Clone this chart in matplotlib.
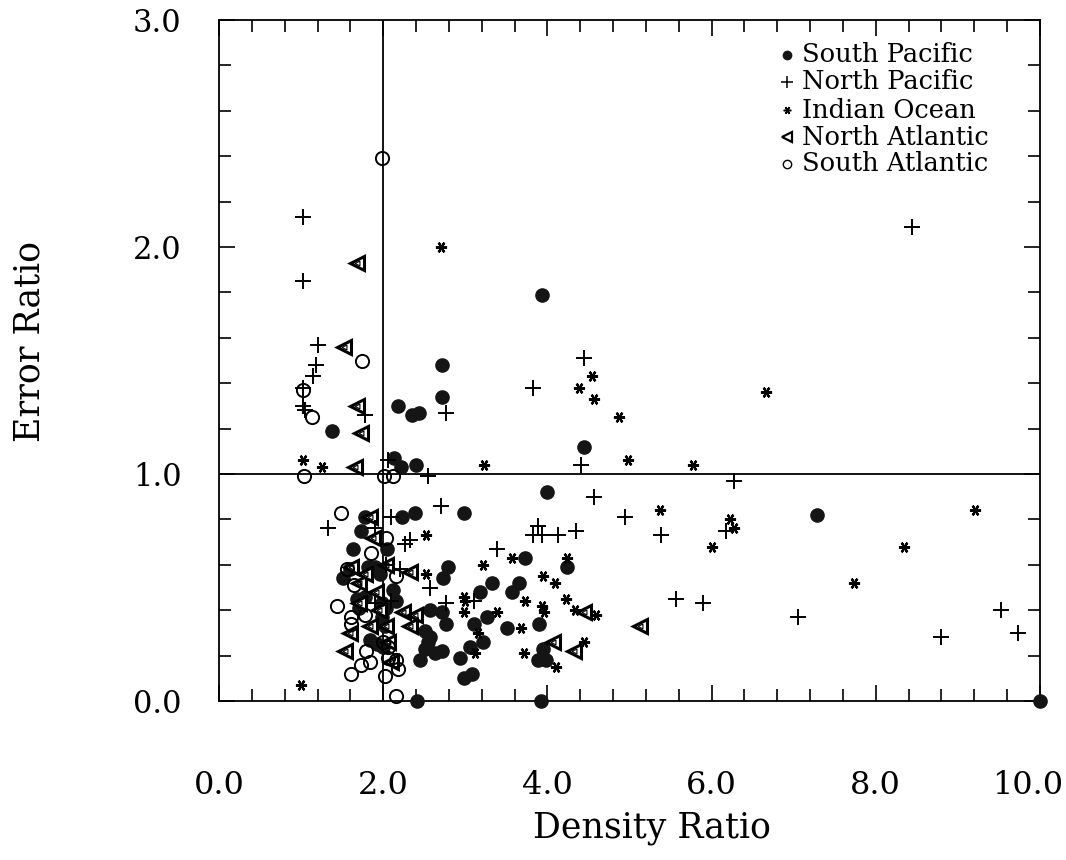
import matplotlib
matplotlib.use("Agg")
import matplotlib.pyplot as plt
import matplotlib.transforms as mtransforms
from matplotlib.ticker import MultipleLocator

# ---------------- data ----------------
sp_x = [3.93, 2.72, 2.72, 2.18, 2.35, 2.43, 4.45, 2.13, 2.22, 2.40, 1.38, 4.00, 2.99, 7.28, 10.0, 3.92, 2.41,
        2.39, 2.23, 1.78, 1.73, 1.63, 2.05, 1.51, 1.60, 1.84, 1.96, 1.82, 1.90, 2.12, 1.68, 1.70, 1.78, 1.99,
        2.15, 2.04, 1.98, 2.57, 2.72, 2.76, 2.02, 2.51, 2.57, 2.54, 1.84, 1.93, 2.00, 2.45, 2.63, 2.72, 2.51,
        2.94, 2.79, 2.73, 2.99, 3.08, 3.73, 3.65, 3.57, 3.33, 3.18, 3.27, 3.10, 3.22, 3.06, 3.51, 3.90, 3.95,
        3.89, 3.98, 4.24]
sp_y = [1.79, 1.48, 1.34, 1.30, 1.26, 1.27, 1.12, 1.07, 1.03, 1.04, 1.19, 0.92, 0.83, 0.82, 0.00, 0.00, 0.00,
        0.83, 0.81, 0.81, 0.75, 0.67, 0.67, 0.54, 0.58, 0.58, 0.56, 0.59, 0.59, 0.49, 0.45, 0.41, 0.46, 0.43,
        0.44, 0.41, 0.37, 0.40, 0.39, 0.34, 0.33, 0.31, 0.28, 0.26, 0.27, 0.25, 0.24, 0.18, 0.21, 0.22, 0.23,
        0.19, 0.59, 0.54, 0.10, 0.12, 0.63, 0.52, 0.48, 0.52, 0.48, 0.37, 0.34, 0.26, 0.24, 0.32, 0.34, 0.23,
        0.18, 0.18, 0.59]

np_x = [1.02, 1.02, 1.21, 1.18, 1.15, 1.02, 1.02, 1.05, 1.78, 2.77, 4.44, 3.83, 4.41, 8.44, 6.27, 6.17, 5.89,
        7.05, 8.80, 9.52, 9.73, 4.57, 4.95, 5.38, 3.88, 3.83, 3.94, 4.13, 4.35, 3.39, 3.10, 5.57, 2.54, 2.70,
        1.33, 2.09, 1.90, 2.27, 2.33, 2.21, 2.04, 2.57, 2.76, 2.10, 1.90, 2.06]
np_y = [2.13, 1.85, 1.57, 1.48, 1.43, 1.38, 1.30, 1.28, 1.26, 1.27, 1.51, 1.38, 1.04, 2.09, 0.97, 0.75, 0.43,
        0.37, 0.28, 0.40, 0.30, 0.90, 0.81, 0.73, 0.77, 0.73, 0.73, 0.73, 0.75, 0.67, 0.44, 0.45, 0.99, 0.86,
        0.76, 0.81, 0.76, 0.69, 0.71, 0.58, 0.60, 0.50, 0.43, 0.44, 0.43, 1.06]

io_x = [2.70, 4.54, 4.39, 4.57, 4.87, 4.98, 5.77, 3.23, 6.66, 9.21, 6.23, 6.27, 6.01, 8.34, 7.73, 5.37, 3.22,
        3.57, 4.24, 3.95, 4.09, 3.73, 3.93, 3.96, 4.23, 4.34, 4.59, 3.39, 2.98, 3.00, 2.99, 3.15, 3.12, 3.68,
        3.71, 4.10, 4.44, 2.52, 2.52, 1.00, 1.02, 1.26]
io_y = [2.00, 1.43, 1.38, 1.33, 1.25, 1.06, 1.04, 1.04, 1.36, 0.84, 0.80, 0.76, 0.68, 0.68, 0.52, 0.84, 0.60,
        0.63, 0.63, 0.55, 0.52, 0.44, 0.42, 0.39, 0.45, 0.40, 0.38, 0.39, 0.46, 0.44, 0.39, 0.30, 0.21, 0.32,
        0.21, 0.15, 0.26, 0.73, 0.56, 0.07, 1.06, 1.03]

na_x = [1.68, 1.52, 1.68, 1.73, 1.66, 1.84, 1.88, 1.61, 1.70, 2.04, 2.33, 1.70, 1.84, 1.60, 1.54, 2.04, 2.24,
        2.39, 2.33, 2.09, 1.91, 4.44, 5.13, 4.32, 4.07, 1.78, 1.95, 2.06]
na_y = [1.93, 1.56, 1.30, 1.18, 1.03, 0.81, 0.72, 0.59, 0.52, 0.60, 0.57, 0.43, 0.33, 0.30, 0.22, 0.33, 0.39,
        0.38, 0.33, 0.17, 0.48, 0.39, 0.33, 0.22, 0.26, 0.56, 0.40, 0.26]

sa_x = [1.98, 1.74, 1.02, 1.13, 1.04, 2.01, 2.12, 1.49, 2.04, 1.85, 2.16, 1.44, 1.61, 1.61, 1.79, 1.73, 1.84,
        1.61, 2.02, 2.06, 2.16, 2.18, 2.00, 2.06, 2.15, 1.78, 1.56, 1.65]
sa_y = [2.39, 1.50, 1.37, 1.25, 0.99, 0.99, 0.99, 0.83, 0.72, 0.65, 0.55, 0.42, 0.37, 0.34, 0.22, 0.16, 0.17,
        0.12, 0.11, 0.19, 0.18, 0.14, 0.26, 0.24, 0.02, 0.38, 0.58, 0.51]

labels = ["South Pacific", "North Pacific", "Indian Ocean", "North Atlantic", "South Atlantic"]
x_ticks = [0.0, 2.0, 4.0, 6.0, 8.0, 10.0]
y_ticks = [0.0, 1.0, 2.0, 3.0]

# ---------------- figure ----------------
plt.rcParams['font.family'] = ['DejaVu Serif']
fig = plt.figure(figsize=(10.66, 8.6), dpi=100)
ax = fig.add_axes([219/1066, 1-701/860, (1040-219)/1066, (701-20)/860])

ax.set_xlim(0, 10)
ax.set_ylim(0, 3)

# reference lines
ax.axvline(2.0, color='black', lw=1.3, zorder=1)
ax.axhline(1.0, color='black', lw=1.3, zorder=1)

k = 'black'
ast = (6, 2, 90)
ax.plot(sp_x, sp_y, 'o', ms=9.5, mfc='#151515', mec='#151515', ls='none', zorder=3, clip_on=False)
ax.plot(na_x, na_y, '<', ms=10, mfc='white', mec=k, mew=2.2, ls='none', zorder=4)
ax.plot(na_x, na_y, '<', ms=3.5, mfc='white', mec=k, mew=0.8, ls='none', zorder=4)
ax.plot(sa_x, sa_y, 'o', ms=9.5, mfc='none', mec=k, mew=1.4, ls='none', zorder=4, clip_on=False)
ax.plot(np_x, np_y, '+', ms=11, mec=k, mew=1.4, ls='none', zorder=5)
ax.plot(io_x, io_y, marker=ast, ms=8, mec=k, mew=1.6, ls='none', zorder=5)

# legend (custom)
leg_y = [2.846, 2.727, 2.603, 2.483, 2.366]
lx = 6.92
tx = 7.10
ax.plot([lx], [leg_y[0]], 'o', ms=6, mfc='#151515', mec='#151515')
ax.plot([lx], [leg_y[1]], '+', ms=8, mec=k, mew=1.1)
ax.plot([lx], [leg_y[2]], marker=ast, ms=5.5, mec=k, mew=1.1)
ax.plot([lx], [leg_y[3]], '<', ms=7, mfc='white', mec=k, mew=1.6)
ax.plot([lx], [leg_y[4]], 'o', ms=6, mfc='none', mec=k, mew=1.0)
for yy, lab in zip(leg_y, labels):
    ax.text(tx, yy, lab, fontsize=18.5, va='center', ha='left')

# ticks
ax.xaxis.set_major_locator(MultipleLocator(2))
ax.xaxis.set_minor_locator(MultipleLocator(0.4))
ax.yaxis.set_major_locator(MultipleLocator(1))
ax.yaxis.set_minor_locator(MultipleLocator(0.2))
ax.tick_params(which='both', direction='in', top=True, right=True, width=1.2, colors='black')
ax.tick_params(which='major', length=11.5)
ax.tick_params(which='minor', length=8.5)
ax.tick_params(axis='x', which='major', pad=50, labelsize=23)
ax.tick_params(axis='y', which='major', pad=27, labelsize=22)
ax.set_xticks(x_ticks)
ax.set_xticklabels([f"{v:.1f}" for v in x_ticks])
ax.set_yticks(y_ticks)
ax.set_yticklabels([f"{v:.1f}" for v in y_ticks])
for s in ax.spines.values():
    s.set_linewidth(1.3)

# nudge last x tick label so it stays in the figure
last = ax.get_xticklabels()[-1]
last.set_transform(last.get_transform() + mtransforms.ScaledTranslation(-12/100, 0, fig.dpi_scale_trans))

ax.set_xlabel("Density Ratio", fontsize=25)
ax.xaxis.set_label_coords((652-219)/821, (701-828)/681)
ax.xaxis.label.set_verticalalignment('center')
ax.set_ylabel("Error Ratio", fontsize=25)
ax.yaxis.set_label_coords((30-219)/821, (701-341)/681)
ax.yaxis.label.set_verticalalignment('center')
ax.yaxis.label.set_horizontalalignment('center')

fig.savefig("out.png", dpi=100)
